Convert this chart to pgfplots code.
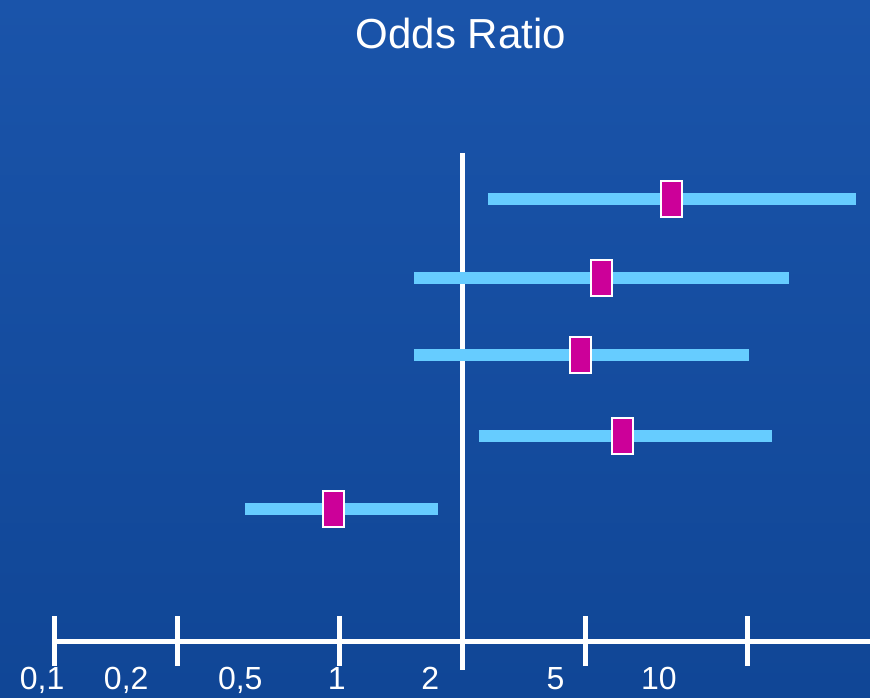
\documentclass[border=0pt]{standalone}
\usepackage{pgfplots}
\pgfplotsset{compat=1.18}
\usepackage{fontspec}
\setmainfont{Liberation Sans}
\definecolor{bgtop}{RGB}{26,84,170}
\definecolor{bgbot}{RGB}{16,70,150}
\definecolor{cibar}{RGB}{102,204,255}
\definecolor{orbox}{RGB}{204,0,153}
\pgfdeclareplotmark{orrect}{%
  \pgfpathrectangle{\pgfpoint{-10.5pt}{-18pt}}{\pgfpoint{21pt}{36pt}}%
  \pgfusepathqfillstroke}
\begin{document}
\begin{tikzpicture}
\shade[top color=bgtop, bottom color=bgbot] (0,0) rectangle (870pt,697pt);
\begin{axis}[
  at={(55pt,56pt)}, anchor=south west,
  scale only axis, width=815pt, height=641pt,
  xmode=log, xmin=0.1, xmax=10, ymin=0, ymax=641,
  axis x line*=bottom, axis y line=none,
  xtick={0.1,0.2,0.5,1,2,5}, xticklabels={}, minor xtick={},
  axis line style={white, line width=5pt, -},
  major tick length=50pt, tick align=center,
  every tick/.style={white, line width=5pt},
  clip=false,
]
% vertical line of no effect (OR = 1)
\addplot[white, line width=5pt] coordinates {(1,488) (1,-29)};
% confidence intervals
\addplot[cibar, line width=11.5pt] coordinates {(1.154,442) (9.26,442)};
\addplot[cibar, line width=11.5pt] coordinates {(0.760,363) (6.34,363)};
\addplot[cibar, line width=11.5pt] coordinates {(0.760,286) (5.06,286)};
\addplot[cibar, line width=11.5pt] coordinates {(1.097,205) (5.74,205)};
\addplot[cibar, line width=11.5pt] coordinates {(0.293,132) (0.869,132)};
% point estimates
\addplot[only marks, mark=orrect, mark options={fill=orbox, draw=white, line width=2.2pt}]
  coordinates {(3.264,442) (2.198,363) (1.952,286) (2.469,205) (0.483,132)};
% title and labels
\node[white, font=\fontsize{42}{50}\selectfont, anchor=base] at (rel axis cs:0.498,0.925) {Odds Ratio};
\node[white, font=\fontsize{32}{38}\selectfont, anchor=base] at (rel axis cs:-0.0157,-0.0764) {0,1};
\node[white, font=\fontsize{32}{38}\selectfont, anchor=base] at (rel axis cs:0.0874,-0.0764) {0,2};
\node[white, font=\fontsize{32}{38}\selectfont, anchor=base] at (rel axis cs:0.2273,-0.0764) {0,5};
\node[white, font=\fontsize{32}{38}\selectfont, anchor=base] at (rel axis cs:0.3458,-0.0764) {1};
\node[white, font=\fontsize{32}{38}\selectfont, anchor=base] at (rel axis cs:0.4605,-0.0764) {2};
\node[white, font=\fontsize{32}{38}\selectfont, anchor=base] at (rel axis cs:0.6140,-0.0764) {5};
\node[white, font=\fontsize{32}{38}\selectfont, anchor=base] at (rel axis cs:0.7410,-0.0764) {10};
\end{axis}
\pgfresetboundingbox
\useasboundingbox (0,0) rectangle (870pt,697pt);
\end{tikzpicture}
\end{document}
